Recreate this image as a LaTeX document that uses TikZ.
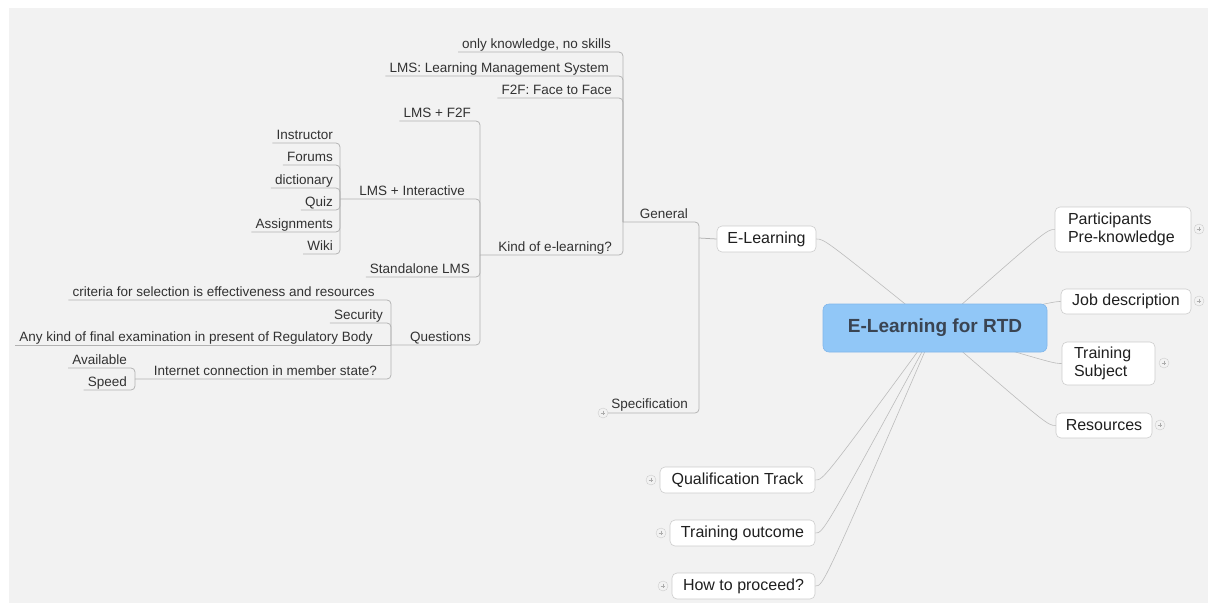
\documentclass[tikz,border=0pt]{standalone}
\usepackage{fontspec}
\setmainfont{Liberation Sans}
\usetikzlibrary{calc}
\definecolor{bg}{RGB}{242,242,242}
\definecolor{spine}{RGB}{178,178,178}
\definecolor{conn}{RGB}{188,188,188}
\definecolor{boxline}{RGB}{205,205,205}
\definecolor{leaftext}{RGB}{50,50,50}
\definecolor{centralfill}{RGB}{145,199,247}
\definecolor{centralline}{RGB}{128,182,235}
\definecolor{centraltext}{RGB}{58,68,82}
\begin{document}
\begin{tikzpicture}[x=1pt,y=-1pt,
  leaf/.style={anchor=south east, inner xsep=4pt, inner ysep=0.8pt, text depth=2.5pt, text height=10pt, font=\fontsize{13.5}{16}\selectfont, text=leaftext},
  tree/.style={draw=spine, line width=0.75pt, rounded corners=4pt},
  topic/.style={draw=boxline, fill=white, rounded corners=5pt, line width=0.6pt, font=\fontsize{16}{18.5}\selectfont, text=black!88, inner sep=0pt},
  connline/.style={draw=conn, line width=0.6pt},
  plusmark/.style={circle, draw=gray!40, fill=bg, minimum size=10pt, inner sep=0pt,
    path picture={\draw[gray!65, line width=0.5pt] ($(path picture bounding box.center)+(-2.4,0)$) -- ++(4.8,0) ($(path picture bounding box.center)+(0,-2.4)$) -- ++(0,4.8);}},
]
\useasboundingbox (0,0) rectangle (1208,603);
\fill[white] (0,0) rectangle (1208,603);
\fill[bg] (9,8) rectangle (1208,603);

% level-1 topics
\node[topic, minimum width=99pt, minimum height=26pt] (el) at (766.5,239) {E-Learning};
\node[topic, text width=110pt, inner xsep=13pt, minimum height=45pt, align=left] (pp) at (1123,229.5) {Participants\\Pre-knowledge};
\node[topic, minimum width=130pt, minimum height=25pt] (jd) at (1126,301.5) {Job description};
\node[topic, text width=69pt, inner xsep=12pt, minimum height=43pt, align=left] (ts) at (1108.5,363.5) {Training\\Subject};
\node[topic, minimum width=96pt, minimum height=25pt] (rs) at (1104,425.5) {Resources};
\node[topic, minimum width=155pt, minimum height=26pt] (qt) at (737.5,480) {Qualification Track};
\node[topic, minimum width=145pt, minimum height=26pt] (to) at (742.5,533) {Training outcome};
\node[topic, minimum width=143pt, minimum height=26pt] (hp) at (743.5,586) {How to proceed?};

% plus marks
\node[plusmark] (ppp) at (1199,229) {};
\node[plusmark] (jdp) at (1199,301) {};
\node[plusmark] (tsp) at (1164,363) {};
\node[plusmark] (rsp) at (1160,425) {};
\node[plusmark] (qtp) at (651,480) {};
\node[plusmark] (top) at (661,533) {};
\node[plusmark] (hpp) at (663,586) {};
\node[plusmark] (spp) at (603,413) {};

% central node position (for connectors)
\coordinate (rc) at (935,328);
\draw[connline] (rc) .. controls ($(el.east)+(8,0)$) .. (el.east);
\draw[connline] (rc) .. controls ($(pp.west)+(-8,0)$) .. (pp.west);
\draw[connline] (rc) .. controls ($(jd.west)+(-6,0)$) .. (jd.west);
\draw[connline] (rc) .. controls ($(ts.west)+(-8,0)$) .. (ts.west);
\draw[connline] (rc) .. controls ($(rs.west)+(-8,0)$) .. (rs.west);
\draw[connline] (rc) .. controls ($(qt.east)+(8,0)$) .. (qt.east);
\draw[connline] (rc) .. controls ($(to.east)+(8,0)$) .. (to.east);
\draw[connline] (rc) .. controls ($(hp.east)+(8,0)$) .. (hp.east);

\node[draw=centralline, fill=centralfill, rounded corners=6pt, line width=0.6pt, minimum width=224pt, minimum height=48pt, font=\bfseries\fontsize{19}{22}\selectfont, text=centraltext] (root) at (rc) {E-Learning for RTD};

% tree junctions
\coordinate (jE) at (699,238);
\coordinate (jG) at (623,222);
\coordinate (jK) at (480,255);
\coordinate (jI) at (340,199);
\coordinate (jQ) at (391,345);
\coordinate (jN) at (135,379);

% leaf texts
\node[leaf] (gen) at (692,222) {General};
\node[leaf] (spec) at (692,412) {Specification};
\node[leaf] (ok) at (615,52) {only knowledge, no skills};
\node[leaf] (lms) at (613,76) {LMS: Learning Management System};
\node[leaf] (f2f) at (616,98) {F2F: Face to Face};
\node[leaf] (kind) at (616,255) {Kind of e-learning?};
\node[leaf] (lf) at (475,121) {LMS + F2F};
\node[leaf] (li) at (469,199) {LMS + Interactive};
\node[leaf] (sl) at (474,277) {Standalone LMS};
\node[leaf] (qu) at (475,345) {Questions};
\node[leaf] (ins) at (337,143) {Instructor};
\node[leaf] (for) at (337,165) {Forums};
\node[leaf] (dic) at (337,188) {dictionary};
\node[leaf] (qz) at (337,210) {Quiz};
\node[leaf] (asg) at (337,232) {Assignments};
\node[leaf] (wk) at (337,254) {Wiki};
\node[leaf] (cr) at (379,300) {criteria for selection is effectiveness and resources};
\node[leaf] (sec) at (387,323) {Security};
\node[leaf] (ak) at (377,345) {Any kind of final examination in present of Regulatory Body};
\node[leaf] (ic) at (381,379) {Internet connection in member state?};
\node[leaf] (av) at (131,368) {Available};
\node[leaf] (sp) at (131,390) {Speed};

% tree lines
\draw[tree] (jE) -- (el.west);
\draw[tree] (jG) -| (jE);
\draw[tree] (spp.east) -| (jE);
\draw[tree] (ok.south west) -| (jG);
\draw[tree] (lms.south west) -| (jG);
\draw[tree] (f2f.south west) -| (jG);
\draw[tree] (jK) -| (jG);
\draw[tree] (lf.south west) -| (jK);
\draw[tree] (jI) -| (jK);
\draw[tree] (sl.south west) -| (jK);
\draw[tree] (jQ) -| (jK);
\draw[tree] (ins.south west) -| (jI);
\draw[tree] (for.south west) -| (jI);
\draw[tree] (dic.south west) -| (jI);
\draw[tree] (qz.south west) -| (jI);
\draw[tree] (asg.south west) -| (jI);
\draw[tree] (wk.south west) -| (jI);
\draw[tree] (cr.south west) -| (jQ);
\draw[tree] (sec.south west) -| (jQ);
\draw[tree] (ak.south west) -- (jQ);
\draw[tree] (jN) -| (jQ);
\draw[tree] (av.south west) -| (jN);
\draw[tree] (sp.south west) -| (jN);
\end{tikzpicture}
\end{document}
